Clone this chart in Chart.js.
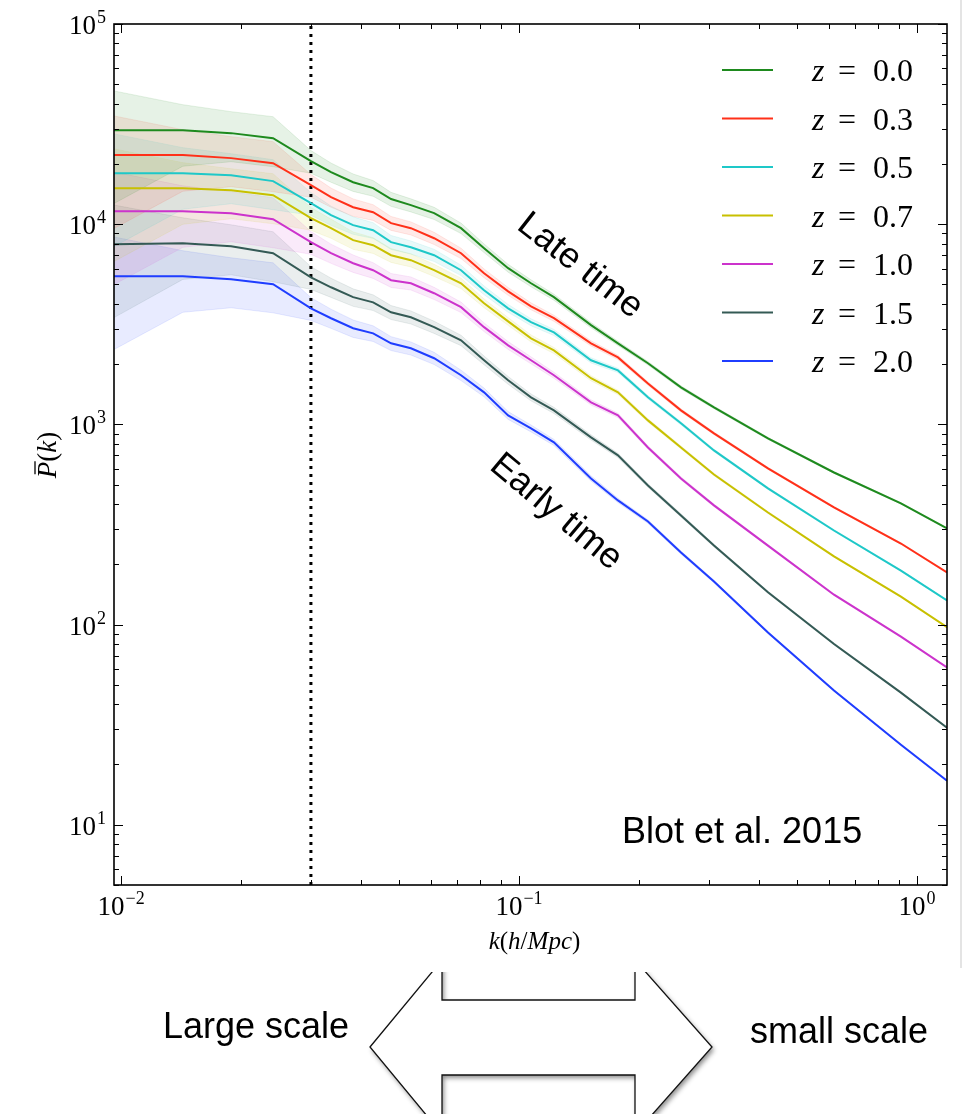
<!DOCTYPE html>
<html>
<head>
<meta charset="utf-8">
<script src="https://cdn.jsdelivr.net/npm/chart.js@4.4.1/dist/chart.umd.min.js"></script>
<style>
  body { margin: 0; background: #fff; }
  #wrap { width: 964px; height: 1114px; }
</style>
</head>
<body>
<div id="wrap"><canvas id="pkChart" width="964" height="1114"></canvas></div>
<script>
// wavenumbers k (h/Mpc)
const kValues = [0.0096, 0.0143, 0.0189, 0.0241, 0.0300, 0.0337, 0.0383, 0.0430, 0.0477, 0.0535,
  0.0612, 0.0715, 0.0817, 0.0939, 0.1072, 0.1224, 0.1517, 0.1773, 0.2109, 0.2553,
  0.3090, 0.4223, 0.6188, 0.9115, 1.19];

// mean power spectrum per redshift
const pZ00 = [29500, 29500, 28500, 26900, 20650, 18200, 16200, 15150, 13350, 12450,
  11350, 9550, 7590, 6030, 5070, 4320, 3130, 2540, 2020, 1530, 1216, 851, 575, 403, 302];
const pZ03 = [22130, 22130, 21380, 20180, 15670, 13650, 12160, 11480, 10120, 9550,
  8510, 7160, 5690, 4620, 3890, 3390, 2540, 2160, 1600, 1175, 902, 603, 385, 254, 182];
const pZ05 = [17990, 17990, 17580, 16410, 12740, 11090, 9890, 9330, 8130, 7670,
  7000, 5890, 4680, 3800, 3240, 2880, 2090, 1860, 1365, 1012, 741, 479, 295, 186, 132];
const pZ07 = [15140, 15140, 14790, 13960, 10720, 9550, 8320, 7850, 7000, 6610,
  5890, 5070, 4030, 3270, 2690, 2340, 1700, 1445, 1047, 767, 562, 363, 219, 138, 97];
const pZ10 = [11610, 11610, 11350, 10590, 8130, 7160, 6380, 5890, 5250, 5070,
  4520, 3850, 3060, 2480, 2090, 1760, 1288, 1109, 767, 537, 394, 248, 141, 87, 61];
const pZ15 = [7940, 8030, 7760, 7160, 5430, 4840, 4320, 4070, 3630, 3430,
  3060, 2630, 2090, 1660, 1365, 1175, 861, 700, 495, 351, 248, 145, 80, 45.7, 30.5];
const pZ20 = [5500, 5500, 5310, 5010, 3800, 3390, 3020, 2850, 2540, 2400,
  2140, 1760, 1445, 1109, 955, 813, 537, 417, 327, 229, 164, 91.2, 46.8, 25.1, 16.6];

// relative scatter (sigma / P) of the shaded bands
const relErr = [0.57, 0.34, 0.28, 0.28, 0.13, 0.11, 0.10, 0.09, 0.08, 0.075,
  0.07, 0.06, 0.05, 0.045, 0.04, 0.035, 0.03, 0.025, 0.02, 0.018,
  0.015, 0.012, 0.01, 0.008, 0.007];

const zLabels = ['0.0', '0.3', '0.5', '0.7', '1.0', '1.5', '2.0'];
const zSeries = [pZ00, pZ03, pZ05, pZ07, pZ10, pZ15, pZ20];
const zColors = ['#1e8a1e', '#ff3019', '#1ec8c8', '#c8c000', '#cc33cc', '#345a55', '#1f3dff'];
const zFills = ['rgba(30,138,30,0.11)', 'rgba(255,48,25,0.10)', 'rgba(30,200,200,0.10)',
  'rgba(200,192,0,0.10)', 'rgba(204,51,204,0.10)', 'rgba(52,90,85,0.10)', 'rgba(31,61,255,0.10)'];

const kDivide = 0.03;
const xDecades = [-2, -1, 0];
const yDecades = [1, 2, 3, 4, 5];

const SERIF = '"Liberation Serif", "DejaVu Serif", serif';
const SANS = '"Liberation Sans", Arial, sans-serif';

function points(vals) {
  return kValues.map((k, i) => ({ x: k, y: vals[i] }));
}

const datasets = [];
zSeries.forEach((vals, s) => {
  datasets.push({
    label: 'z = ' + zLabels[s],
    data: points(vals),
    borderColor: zColors[s],
    borderWidth: 2,
    pointRadius: 0,
    tension: 0,
    fill: false
  });
});
datasets.push({
  label: 'divide',
  data: [{ x: kDivide, y: 5 }, { x: kDivide, y: 1e5 }],
  borderColor: '#000',
  borderWidth: 3,
  borderDash: [3, 5],
  pointRadius: 0,
  fill: false
});
zSeries.forEach((vals, s) => {
  datasets.push({
    label: 'band-up',
    data: points(vals.map((v, i) => v * (1 + relErr[i]))),
    borderColor: zFills[s],
    backgroundColor: zFills[s],
    borderWidth: 1,
    pointRadius: 0,
    tension: 0,
    fill: '+1'
  });
  datasets.push({
    label: 'band-low',
    data: points(vals.map((v, i) => v * (1 - relErr[i]))),
    borderColor: zFills[s],
    borderWidth: 1,
    pointRadius: 0,
    tension: 0,
    fill: false
  });
});

// draws a run of text pieces, some italic
function drawPieces(ctx, pieces, x, y, size) {
  let cx = x;
  pieces.forEach(p => {
    ctx.font = (p.it ? 'italic ' : '') + size + 'px ' + SERIF;
    ctx.fillText(p.t, cx, y);
    cx += ctx.measureText(p.t).width + (p.gap || 0);
  });
  return cx - x;
}
function piecesWidth(ctx, pieces, size) {
  let w = 0;
  pieces.forEach(p => {
    ctx.font = (p.it ? 'italic ' : '') + size + 'px ' + SERIF;
    w += ctx.measureText(p.t).width + (p.gap || 0);
  });
  return w;
}

function powLabel(ctx, exp, x, y, align) {
  const base = '10', sup = exp < 0 ? '\u2212' + (-exp) : String(exp);
  ctx.font = '27px ' + SERIF;
  const wb = ctx.measureText(base).width;
  ctx.font = '18px ' + SERIF;
  const ws = ctx.measureText(sup).width;
  let left = align === 'right' ? x - wb - ws - 1 : x - (wb + ws + 1) / 2;
  ctx.font = '27px ' + SERIF;
  ctx.fillText(base, left, y);
  ctx.font = '18px ' + SERIF;
  ctx.fillText(sup, left + wb + 1, y - 11);
}

const decor = {
  id: 'decor',
  afterDatasetsDraw(chart) {
    const ctx = chart.ctx;
    const xs = chart.scales.x, ys = chart.scales.y;
    const a = chart.chartArea;
    ctx.save();
    ctx.fillStyle = '#000';
    ctx.strokeStyle = '#000';
    ctx.textAlign = 'left';
    ctx.textBaseline = 'alphabetic';

    // frame
    ctx.lineWidth = 1.6;
    ctx.strokeRect(a.left, a.top, a.right - a.left, a.bottom - a.top);

    // ticks inward on all sides
    ctx.lineWidth = 1;
    for (let d = 0; d <= 5; d++) {
      for (let m = 1; m <= 9; m++) {
        const v = m * Math.pow(10, d);
        if (v < ys.min || v > ys.max) continue;
        const py = Math.round(ys.getPixelForValue(v)) + 0.5;
        const len = m === 1 ? 9 : 5;
        ctx.beginPath();
        ctx.moveTo(a.left, py); ctx.lineTo(a.left + len, py);
        ctx.moveTo(a.right, py); ctx.lineTo(a.right - len, py);
        ctx.stroke();
      }
    }
    for (let d = -3; d <= 0; d++) {
      for (let m = 1; m <= 9; m++) {
        const v = m * Math.pow(10, d);
        if (v < xs.min || v > xs.max) continue;
        const px = Math.round(xs.getPixelForValue(v)) + 0.5;
        const len = m === 1 ? 9 : 5;
        ctx.beginPath();
        ctx.moveTo(px, a.bottom); ctx.lineTo(px, a.bottom - len);
        ctx.moveTo(px, a.top); ctx.lineTo(px, a.top + len);
        ctx.stroke();
      }
    }

    // tick labels
    yDecades.forEach(e => powLabel(ctx, e, a.left - 8, ys.getPixelForValue(Math.pow(10, e)) + 10, 'right'));
    xDecades.forEach(e => powLabel(ctx, e, xs.getPixelForValue(Math.pow(10, e)), a.bottom + 30, 'center'));

    // x title
    const xt = [{ t: 'k', it: true }, { t: '(' }, { t: 'h', it: true }, { t: '/' }, { t: 'Mpc', it: true }, { t: ')' }];
    const xw = piecesWidth(ctx, xt, 25);
    drawPieces(ctx, xt, (a.left + a.right) / 2 - xw / 2 + 4, a.bottom + 64, 25);

    // y title, rotated
    ctx.save();
    ctx.translate(56, 455);
    ctx.rotate(-Math.PI / 2);
    const yt = [{ t: 'P', it: true }, { t: '(' }, { t: 'k', it: true }, { t: ')' }];
    const yw = piecesWidth(ctx, yt, 27);
    drawPieces(ctx, yt, -yw / 2, 0, 27);
    ctx.lineWidth = 1.3;
    ctx.beginPath();
    ctx.moveTo(-yw / 2 + 4, -21); ctx.lineTo(-yw / 2 + 17, -21);
    ctx.stroke();
    ctx.restore();

    // legend
    const rowTop = 70, rowStep = 48.5;
    chart.data.datasets.slice(0, zLabels.length).forEach((ds, i) => {
      const yy = rowTop + i * rowStep;
      ctx.strokeStyle = ds.borderColor;
      ctx.lineWidth = 2;
      ctx.beginPath();
      ctx.moveTo(722, yy); ctx.lineTo(773, yy);
      ctx.stroke();
      ctx.fillStyle = '#000';
      ctx.font = 'italic 32px ' + SERIF;
      ctx.fillText('z', 812, yy + 11);
      ctx.font = '32px ' + SERIF;
      ctx.fillText('=', 838, yy + 11);
      ctx.fillText(zLabels[i], 873, yy + 11);
    });

    // annotations
    ctx.fillStyle = '#000';
    ctx.font = '36px ' + SANS;
    ctx.fillText('Blot et al. 2015', 622, 843);
    ctx.textAlign = 'center';
    ctx.textBaseline = 'middle';
    [['Late time', 580, 266, 38], ['Early time', 556, 512, 40]].forEach(([t, cx, cy, ang]) => {
      ctx.save();
      ctx.translate(cx, cy);
      ctx.rotate(ang * Math.PI / 180);
      ctx.fillText(t, 0, 0);
      ctx.restore();
    });
    ctx.restore();

    // outer border of the figure image
    ctx.save();
    ctx.strokeStyle = '#e4e4e4';
    ctx.lineWidth = 2;
    ctx.beginPath();
    ctx.moveTo(961, 0); ctx.lineTo(961, 968);
    ctx.stroke();
    ctx.restore();

    // double arrow and scale labels below the plot
    ctx.save();
    ctx.beginPath();
    ctx.rect(0, 972, 964, 142);
    ctx.clip();
    ctx.beginPath();
    ctx.moveTo(370, 1047);
    ctx.lineTo(442, 960);
    ctx.lineTo(442, 1000);
    ctx.lineTo(635, 1000);
    ctx.lineTo(635, 960);
    ctx.lineTo(712, 1047);
    ctx.lineTo(635, 1134);
    ctx.lineTo(635, 1075);
    ctx.lineTo(442, 1075);
    ctx.lineTo(442, 1134);
    ctx.closePath();
    ctx.shadowColor = 'rgba(0,0,0,0.45)';
    ctx.shadowBlur = 5;
    ctx.shadowOffsetX = 2;
    ctx.shadowOffsetY = 3;
    ctx.fillStyle = '#fff';
    ctx.fill();
    ctx.shadowColor = 'transparent';
    ctx.strokeStyle = '#111';
    ctx.lineWidth = 1.3;
    ctx.stroke();
    ctx.restore();

    ctx.save();
    ctx.fillStyle = '#000';
    ctx.font = '36px ' + SANS;
    ctx.fillText('Large scale', 163, 1038);
    ctx.fillText('small scale', 750, 1043);
    ctx.restore();
  }
};

new Chart(document.getElementById('pkChart').getContext('2d'), {
  type: 'line',
  data: { datasets: datasets },
  options: {
    responsive: false,
    animation: false,
    devicePixelRatio: 1,
    layout: { padding: { left: 114, right: 17, top: 24, bottom: 229 } },
    plugins: { legend: { display: false }, tooltip: { enabled: false } },
    scales: {
      x: { type: 'logarithmic', min: 0.0096, max: 1.19, display: false },
      y: { type: 'logarithmic', min: 5, max: 1e5, display: false }
    }
  },
  plugins: [decor]
});
</script>
</body>
</html>
